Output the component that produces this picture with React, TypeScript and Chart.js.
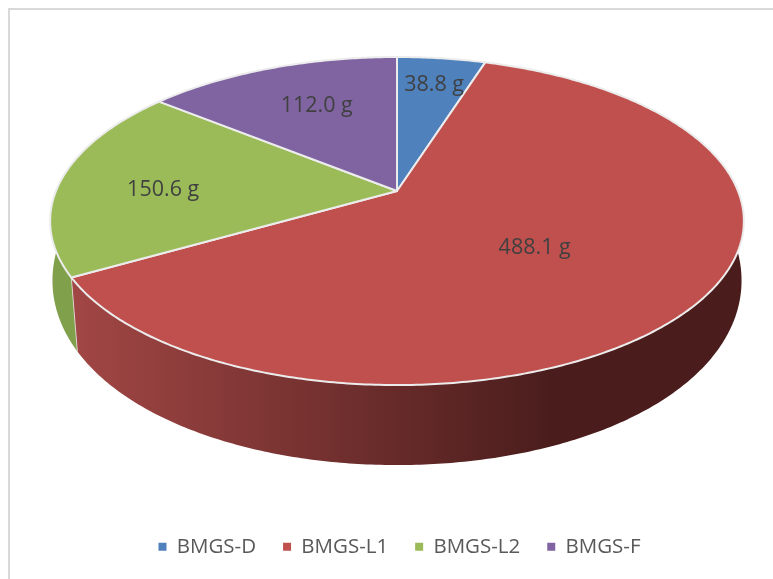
import React, { useEffect, useRef } from "react";
import { Chart, registerables } from "chart.js";

Chart.register(...registerables);

const categories = ["BMGS-D", "BMGS-L1", "BMGS-L2", "BMGS-F"];
const grams = [38.8, 488.1, 150.6, 112.0];
const topColors = ["#4f81bd", "#c0504d", "#9bbb59", "#8064a2"];
const wallColors = ["#3a5f8c", "#8e3b39", "#80a04c", "#5f4a78"];
const labelColor = "#404040";
const legendColor = "#595959";

// Perspective of the tilted disc: maps the unit circle to the page.
const APEX_X = 397;
const APEX_Y = 191;
const K = -0.183;
const A = 341;
const B = 123.6;

function project(angle: number, r = 1) {
  const u = Math.cos(angle) * r;
  const v = Math.sin(angle) * r;
  const w = 1 + K * v;
  return { x: APEX_X + (A * u) / w, y: (B * v) / w + APEX_Y / w };
}

function lower(p: { x: number; y: number }) {
  const f = (385 - p.y) / 107;
  const depth = 80 - 6 * f * f;
  const s = 0.992 - (p.y - 225) * 0.0002;
  return { x: APEX_X + (p.x - APEX_X) * s, y: p.y + depth };
}

function rim(start: number, end: number) {
  const n = Math.max(4, Math.ceil(Math.abs(end - start) * 90));
  const pts: { x: number; y: number }[] = [];
  for (let i = 0; i <= n; i++) pts.push(project(start + ((end - start) * i) / n));
  return pts;
}

const labelRadius = [0.81, 0.49, 0.695, 0.6];
const labelNudge = [5, 5, 8, -7];

const discPlugin = {
  id: "disc",
  beforeDraw(chart: any) {
    const { ctx, width, height } = chart;
    ctx.save();
    ctx.fillStyle = "#ffffff";
    ctx.fillRect(0, 0, width, height);
    ctx.strokeStyle = "#d9d9d9";
    ctx.lineWidth = 2;
    ctx.strokeRect(9, 9, width + 20, height + 20);
    ctx.restore();
  },
  afterLayout(chart: any) {
    chart.legend.top -= 12;
    chart.legend.bottom -= 12;
    chart.legend.left += 13;
    chart.legend.right += 13;
  },
  beforeDatasetDraw(chart: any, args: any) {
    const { ctx } = chart;
    const arcs = chart.getDatasetMeta(args.index).data;
    ctx.save();
    ctx.lineJoin = "round";

    const wallGradient = ctx.createLinearGradient(80, 0, 550, 0);
    wallGradient.addColorStop(0, "#a04644");
    wallGradient.addColorStop(1, "#4a1d1c");

    [0, 3, 2, 1].forEach((i) => {
      const pts = rim(arcs[i].startAngle, arcs[i].endAngle);
      const low = pts.map(lower);
      ctx.beginPath();
      pts.forEach((p, j) => (j ? ctx.lineTo(p.x, p.y) : ctx.moveTo(p.x, p.y)));
      for (let j = low.length - 1; j >= 0; j--) ctx.lineTo(low[j].x, low[j].y);
      ctx.closePath();
      ctx.fillStyle = i === 1 ? wallGradient : wallColors[i];
      ctx.fill();
      ctx.strokeStyle = "rgba(240,240,240,0.7)";
      ctx.lineWidth = 1;
      ctx.beginPath();
      ctx.moveTo(pts[pts.length - 1].x, pts[pts.length - 1].y);
      ctx.lineTo(low[low.length - 1].x, low[low.length - 1].y);
      ctx.stroke();
    });

    arcs.forEach((arc: any, i: number) => {
      const pts = rim(arc.startAngle, arc.endAngle);
      ctx.beginPath();
      ctx.moveTo(APEX_X, APEX_Y);
      pts.forEach((p) => ctx.lineTo(p.x, p.y));
      ctx.closePath();
      ctx.fillStyle = topColors[i];
      ctx.fill();
      ctx.strokeStyle = "#ececec";
      ctx.lineWidth = 2;
      ctx.stroke();
    });

    ctx.fillStyle = labelColor;
    ctx.font = '21.5px "Open Sans"';
    ctx.textAlign = "center";
    ctx.textBaseline = "middle";
    arcs.forEach((arc: any, i: number) => {
      const p = project((arc.startAngle + arc.endAngle) / 2, labelRadius[i]);
      ctx.fillText(`${grams[i].toFixed(1)} g`, p.x, p.y + labelNudge[i]);
    });
    ctx.restore();
    return false;
  },
};

export default function App() {
  const ref = useRef<HTMLCanvasElement>(null);
  useEffect(() => {
    document.body.style.margin = "0";
    const chart = new Chart(ref.current as HTMLCanvasElement, {
      type: "pie",
      data: {
        labels: categories,
        datasets: [{ data: grams, backgroundColor: topColors, borderWidth: 0, clip: false } as any],
      },
      options: {
        animation: false,
        responsive: false,
        plugins: {
          tooltip: { enabled: false },
          legend: {
            position: "bottom",
            labels: {
              boxWidth: 8,
              boxHeight: 8,
              padding: 27,
              color: legendColor,
              font: { family: '"Open Sans"', size: 20.5 },
            },
          },
        },
      },
      plugins: [discPlugin],
    });
    return () => chart.destroy();
  }, []);
  return <canvas ref={ref} width={773} height={579} style={{ display: "block", filter: "blur(0.4px)" }} />;
}
